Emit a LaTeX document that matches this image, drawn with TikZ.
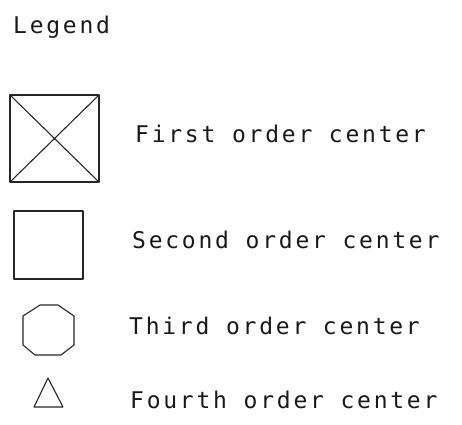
\documentclass[tikz,border=0pt]{standalone}
\usepackage{fontspec}
\newfontfamily\plotfont[LetterSpace=12]{DejaVu Sans Mono}
\begin{document}
\begin{tikzpicture}[x=1pt,y=-1pt,
  sym/.style={draw=black!85, line width=1.1pt, line join=round},
  lbl/.style={anchor=base west, inner sep=0pt, text=black!90, font=\plotfont\fontsize{23}{27}\selectfont}]
\useasboundingbox (0,0) rectangle (462,424);
% title
\node[lbl] (title) at (13,33) {Legend};
% first order: square with cross
\draw[sym] (10,95) rectangle (99,182);
\draw[sym] (10,95) -- (99,182) (10,182) -- (99,95);
\node[lbl] (first) at (135,142) {First order center};
% second order: square
\draw[sym] (14,211) rectangle (83,279);
\node[lbl] (second) at (132,248) {Second order center};
% third order: octagon
\draw[sym] (40,305) -- (58,305) -- (74,316) -- (74,345) -- (61,355) -- (35,355) -- (23,345) -- (23,316) -- cycle;
\node[lbl] (third) at (129,334) {Third order center};
% fourth order: triangle
\draw[sym] (48,378) -- (63,407) -- (34,407) -- cycle;
\node[lbl] (fourth) at (130,408) {Fourth order center};
\end{tikzpicture}
\end{document}
